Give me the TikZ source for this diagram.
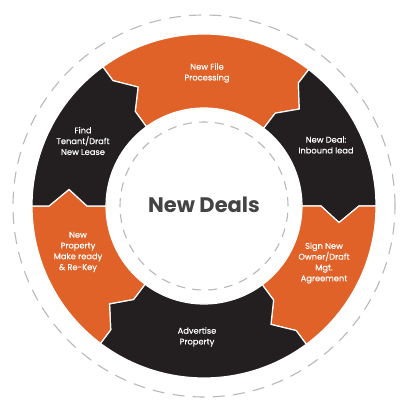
\documentclass[tikz,border=0pt]{standalone}
\usepackage{fontspec}
\setmainfont{Poppins}
\newfontfamily\lblfont{Poppins}[FakeBold=0.35]
\definecolor{dorange}{RGB}{224,98,40}
\definecolor{dblack}{RGB}{35,31,32}
\definecolor{dgray}{RGB}{68,68,68}
\definecolor{dashgray}{RGB}{185,185,185}
\newcommand\ringseg[3]{%
  \path[seg, fill=#3] (#2:172) arc[start angle=#2, end angle=#1, radius=172]
    -- (#1:155) -- ({#1-7}:136) -- (#1:117) -- (#1:98)
    arc[start angle=#1, end angle=#2, radius=98]
    -- (#2:117) -- ({#2-7}:136) -- (#2:155) -- cycle;}
\begin{document}
\begin{tikzpicture}[x=1pt,y=1pt,
  seg/.style={draw=white, line width=1.2pt, line join=miter},
  lbl/.style={text=white, font=\lblfont\fontsize{8.3}{10.8}\selectfont, align=center, inner sep=0pt},
  ring/.style={draw=dashgray, line width=1.1pt}]
\useasboundingbox (0,0) rectangle (407,413);
\fill[white] (0,0) rectangle (407,413);
\begin{scope}[shift={(204,207)}]
  \draw[ring, dash pattern=on 12pt off 8.2pt] (0,0) circle[radius=191];
  \ringseg{52.5}{126}{dorange}
  \ringseg{0}{52.5}{dblack}
  \ringseg{-53.5}{0}{dorange}
  \ringseg{-127}{-53.5}{dblack}
  \ringseg{-180}{-127}{dorange}
  \ringseg{126}{180}{dblack}
  \draw[ring, dash pattern=on 9pt off 7pt] (0,0) circle[radius=84];
\end{scope}
\node[lbl] (nf) at (207,340) {New File\\Processing};
\node[lbl] (nd) at (326,268) {New Deal:\\Inbound lead};
\node[lbl] (sn) at (324,150) {Sign New\\Owner/Draft\\Mgt.\\Agreement};
\node[lbl] (ad) at (197,76) {Advertise\\Property};
\node[lbl] (np) at (78,161) {New\\Property\\Make ready\\\& Re-Key};
\node[lbl] (ft) at (83,272) {Find\\Tenant/Draft\\New Lease};
\node[text=dgray, font=\fontsize{21}{24}\selectfont\bfseries, inner sep=0pt] (ctr) at (204,208) {New Deals};
\end{tikzpicture}
\end{document}
